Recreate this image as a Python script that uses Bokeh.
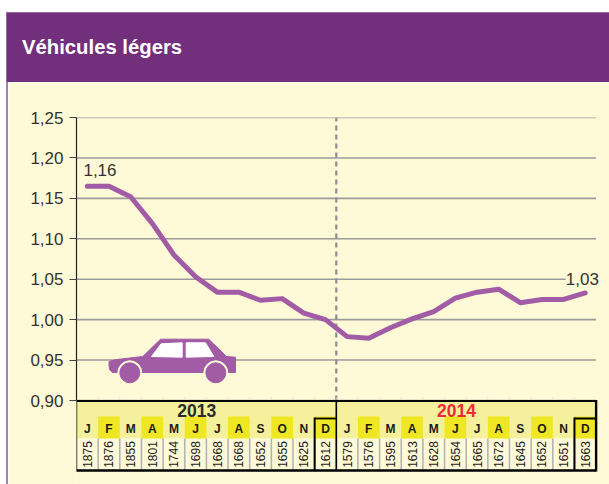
from bokeh.plotting import figure
from bokeh.layouts import column
from bokeh.models import Range1d, FixedTicker, Label, CustomJSTickFormatter, Div
from bokeh.core.properties import value
from bokeh.embed import file_html
from bokeh.resources import INLINE
import math

months = ["J","F","M","A","M","J","J","A","S","O","N","D"] * 2
counts = [1875,1876,1855,1801,1744,1698,1668,1668,1652,1655,1625,1612,
          1579,1576,1595,1613,1628,1654,1665,1672,1645,1652,1651,1663]
index_values = [1.165,1.165,1.152,1.119,1.080,1.053,1.034,1.034,1.024,1.026,1.008,1.000,
                0.979,0.977,0.990,1.001,1.010,1.0265,1.034,1.0377,1.021,1.025,1.025,1.033]
highlight = [1,3,5,7,9,11]
yticks = [0.90,0.95,1.00,1.05,1.10,1.15,1.20,1.25]
title_text = "Véhicules légers"

CREAM = "#fef9d6"; PURPLE = "#722f7c"; LINE = "#a15ca5"; BAND = "#f5f09c"; YEL = "#efe624"; DARK = "#2b2b2b"
FONT = value("Liberation Sans")
PX_PER_UNIT = 283 / 0.35
COL = 21.65
W, H = 609, 484
FL = 76

header = Div(text=title_text, width=W - 6, height=70, margin=(12, 0, 0, 6),
             styles={"background-color": PURPLE, "color": "#ffffff", "font-family": "Liberation Sans",
                     "font-weight": "bold", "font-size": "20.3px", "line-height": "70px",
                     "padding-left": "16px", "box-sizing": "border-box",
                     "box-shadow": "inset 1px 1px 0 #9a6aa6"})

p = figure(width=W - 8, height=H - 82, output_backend="svg", toolbar_location=None,
           x_axis_type=None, y_axis_location="left",
           x_range=Range1d(0, (W - FL) / COL),
           y_range=Range1d(1.25 - 367 / PX_PER_UNIT, 1.25),
           min_border_left=FL - 8, min_border_right=0, min_border_top=117 - 82, min_border_bottom=0,
           background_fill_color=CREAM, border_fill_color=CREAM, outline_line_color=None,
           margin=(0, 0, 0, 8), styles={"box-shadow": "-2px 0 0 #a87fb4"})
p.extra_y_ranges["px"] = Range1d(484, 117)
p.extra_x_ranges["px"] = Range1d(76, 609)
p.grid.visible = False

ax = p.yaxis[0]
ax.ticker = FixedTicker(ticks=yticks)
ax.formatter = CustomJSTickFormatter(code="return tick.toFixed(2).replace('.', ',');")
ax.bounds = (0.90, 1.25)
ax.axis_line_color = "#222222"; ax.axis_line_width = 1.2
ax.major_tick_line_color = "#444444"; ax.major_tick_line_width = 1
ax.major_tick_out = 7; ax.major_tick_in = 0
ax.minor_tick_line_color = None
ax.major_label_standoff = 6
ax.major_label_text_font = "Liberation Sans"; ax.major_label_text_font_size = "17px"
ax.major_label_text_color = "#333333"

n = len(months)
p.segment(x0=[0]*len(yticks), x1=[n]*len(yticks), y0=yticks, y1=yticks, line_color="#9c9c9c", line_width=1.6)

# split between the two years
p.segment(x0=[12], x1=[12], y0=[0.90], y1=[1.25], line_color="#8c8c96", line_width=2.2, line_dash="5 4")

# car icon
p.patch(x=[108.5,108.5,116,142.3,160,208.3,226,235,235,112,109], y=[364,361,359,356,338.7,338.7,356,356.7,372,372,369],
        x_range_name="px", y_range_name="px", color=LINE)
p.patch(x=[151,160.7,181.7,181.7], y=[356,343.3,342.3,356.7], x_range_name="px", y_range_name="px", color="#ffffff")
p.patch(x=[185.7,205,213.3,185.7], y=[342.3,342.3,356,356.7], x_range_name="px", y_range_name="px", color="#ffffff")
p.circle(x=[129.3,215.3], y=[372.3,372.3], radius=12, x_range_name="px", y_range_name="px", color=CREAM)
p.circle(x=[129.3,215.3], y=[372.3,372.3], radius=10, x_range_name="px", y_range_name="px", color=LINE)

# main line
p.line(x=[i + 0.5 for i in range(n)], y=index_values, line_color=LINE, line_width=5,
       line_cap="round", line_join="round")

p.add_layout(Label(x=0.32, y=1.165, y_offset=16, text="1,16", text_font="Liberation Sans", text_font_size="17px",
                   text_color="#333333", text_baseline="middle"))
p.add_layout(Label(x=22.6, y=1.05, text="1,03", text_font="Liberation Sans", text_font_size="17px",
                   text_color="#333333", text_baseline="middle", background_fill_color=CREAM))

# table
xs = list(range(n))
def quad(left, right, top, bottom, color):
    p.quad(left=left, right=right, top=top, bottom=bottom, y_range_name="px", color=color, line_color=None)
quad([0], [n], [400], [438], BAND)
quad([0], [n], [438], [470], CREAM)
quad(highlight + [h + 12 for h in highlight], [h + 1 for h in highlight] + [h + 13 for h in highlight],
     [416]*12, [438]*12, YEL)
p.segment(x0=xs[1:], x1=xs[1:], y0=[438]*(n-1), y1=[469]*(n-1), y_range_name="px", line_color="#b4b4b8", line_width=1.6)
p.segment(x0=xs[1:], x1=xs[1:], y0=[397]*(n-1), y1=[399]*(n-1), y_range_name="px", line_color="#e4e0c8", line_width=1)

p.text(x=[i + 0.5 for i in xs], y=[428]*n, y_range_name="px", text=months, text_font=FONT, text_font_style="bold",
       text_font_size="12px", text_color="#1c1c1c", text_align="center", text_baseline="middle")
p.text(x=[i + 0.5 for i in xs], y=[454]*n, y_range_name="px", text=[str(c) for c in counts], angle=math.pi/2,
       text_font=FONT, text_font_size="12px", text_color="#222222", text_align="center", text_baseline="middle")
p.text(x=[5.55], y=[410], y_range_name="px", text=["2013"], text_font=FONT, text_font_style="bold",
       text_font_size="17.5px", text_color=DARK, text_align="center", text_baseline="middle")
p.text(x=[17.55], y=[410], y_range_name="px", text=["2014"], text_font=FONT, text_font_style="bold",
       text_font_size="17.5px", text_color="#ee2a32", text_align="center", text_baseline="middle")

# table frame and December boxes
def seg(x0, y0, x1, y1, w):
    p.segment(x0=[x0], x1=[x1], y0=[y0], y1=[y1], y_range_name="px", line_color="#000000", line_width=w)
seg(0, 400.5, n, 400.5, 2.2)
seg(0, 470, n, 470, 2.6)
seg(0, 400, 0, 471, 1.4)
seg(n, 399.5, n, 471, 2.4)
seg(11, 418, 12, 418, 1.8)
seg(11, 417, 11, 470, 2)
seg(12, 400, 12, 470, 1.6)
seg(23, 418, 24, 418, 2)
seg(23, 417, 23, 470, 2)

page = column(header, p, margin=(0, 0, 0, 0), spacing=0)
open("out.html", "w").write(file_html(page, INLINE))
